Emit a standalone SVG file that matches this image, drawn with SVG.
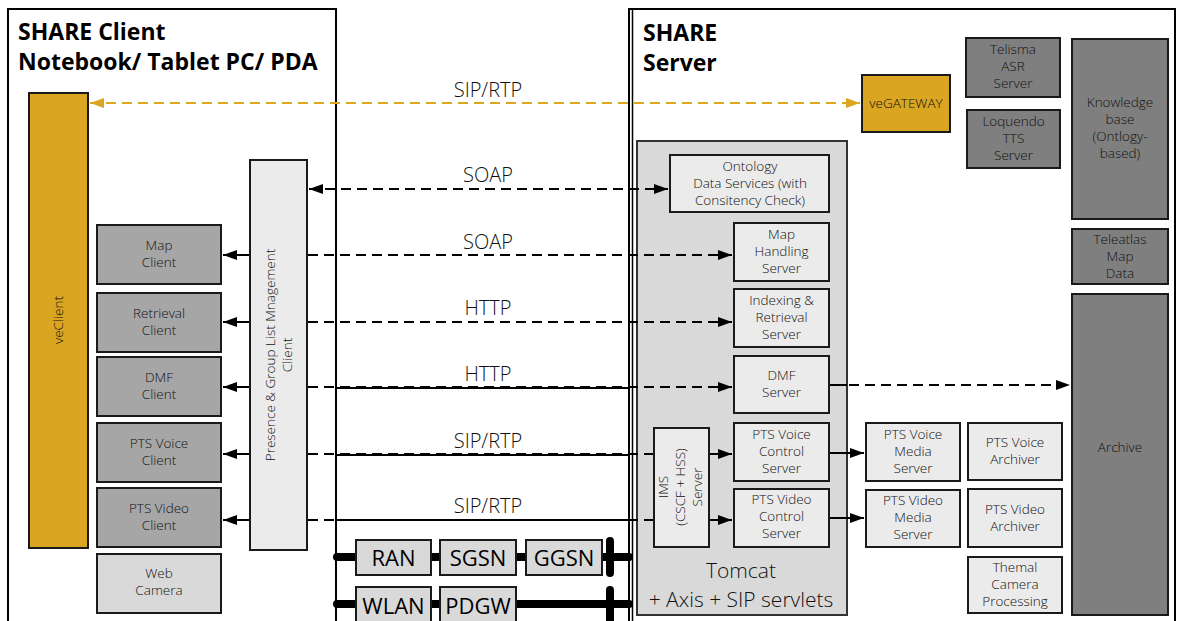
<svg xmlns="http://www.w3.org/2000/svg" width="1181" height="621" viewBox="0 0 1181 621">
<defs>
<marker id="ah" viewBox="0 0 14 10" refX="14" refY="5" markerWidth="14" markerHeight="10" markerUnits="userSpaceOnUse" orient="auto-start-reverse"><path d="M0,0 L14,5 L0,10 Z" fill="#000"/></marker>
<marker id="ahy" viewBox="0 0 14 10" refX="14" refY="5" markerWidth="14" markerHeight="10" markerUnits="userSpaceOnUse" orient="auto-start-reverse"><path d="M0,0 L14,5 L0,10 Z" fill="#DAA520"/></marker>
<style>
text{font-family:"Open Sans","Noto Sans","Liberation Sans",sans-serif;fill:#111;font-weight:300;}
.t{font-size:13.5px;text-anchor:middle;}
.title{font-size:23px;font-weight:bold;fill:#000;}
.lbl{font-size:20px;text-anchor:middle;}
.big{font-size:21px;text-anchor:middle;}
.nw{font-size:22px;text-anchor:middle;fill:#000;font-weight:400;}
.frame{fill:#fff;stroke:#000;stroke-width:2;}
.dark{fill:#7F7F7F;stroke:#1a1a1a;stroke-width:2;}
.mid{fill:#A6A6A6;stroke:#1a1a1a;stroke-width:2;}
.light{fill:#EBEBEB;stroke:#1a1a1a;stroke-width:2;}
.lgray{fill:#D9D9D9;stroke:#1a1a1a;stroke-width:2;}
.gold{fill:#DAA520;stroke:#1a1a1a;stroke-width:2;}
.dash{fill:none;stroke:#000;stroke-width:2;stroke-dasharray:10,6;}
.solid{fill:none;stroke:#000;stroke-width:2;}
.net{fill:none;stroke:#000;stroke-width:8;stroke-linecap:round;}
</style>
</defs>
<rect width="1181" height="621" fill="#fff"/>

<g id="client-frame">
<rect class="frame" x="8" y="9" width="328" height="630"/>
<text class="title" x="18" y="40">SHARE Client</text>
<text class="title" x="18" y="70">Notebook/ Tablet PC/ PDA</text>
</g>
<g id="server-frame">
<rect class="frame" x="629" y="9" width="546" height="630"/>
<line x1="632.5" y1="9" x2="632.5" y2="621" stroke="#000" stroke-width="1.5"/>
<text class="title" x="643" y="41">SHARE</text>
<text class="title" x="643" y="71">Server</text>
</g>

<g id="network">
<line class="net" x1="337" y1="557" x2="629" y2="557"/>
<line class="net" x1="610" y1="541" x2="610" y2="573"/>
<line class="net" x1="337" y1="604" x2="629" y2="604"/>
<line class="net" x1="610" y1="590" x2="610" y2="630"/>
<g id="ran"><rect class="lgray" x="356" y="540" width="75" height="35"/><text class="nw" x="393.5" y="566">RAN</text></g>
<g id="sgsn"><rect class="lgray" x="440" y="540" width="76" height="35"/><text class="nw" x="478" y="566">SGSN</text></g>
<g id="ggsn"><rect class="lgray" x="526" y="540" width="76" height="35"/><text class="nw" x="564" y="566">GGSN</text></g>
<g id="wlan"><rect class="lgray" x="356" y="587" width="75" height="45"/><text class="nw" x="393.5" y="614">WLAN</text></g>
<g id="pdgw"><rect class="lgray" x="440" y="587" width="76" height="45"/><text class="nw" x="478" y="614">PDGW</text></g>
</g>

<g id="veclient"><rect class="gold" x="29" y="93" width="59" height="455"/><text class="t" transform="translate(58,320) rotate(-90)" y="5">veClient</text></g>

<g id="presence"><rect class="light" x="250" y="160" width="57" height="390"/>
<text class="t" transform="translate(278,355) rotate(-90)"><tspan x="0" y="-3">Presence &amp; Group List Mnagement</tspan><tspan x="0" y="14">Client</tspan></text></g>

<g id="map-client"><rect class="mid" x="97" y="225" width="124" height="59"/><text class="t"><tspan x="159" y="250">Map</tspan><tspan x="159" y="267">Client</tspan></text></g>
<g id="retrieval-client"><rect class="mid" x="97" y="293" width="124" height="59"/><text class="t"><tspan x="159" y="318">Retrieval</tspan><tspan x="159" y="335">Client</tspan></text></g>
<g id="dmf-client"><rect class="mid" x="97" y="357" width="124" height="59"/><text class="t"><tspan x="159" y="382">DMF</tspan><tspan x="159" y="399">Client</tspan></text></g>
<g id="pts-voice-client"><rect class="mid" x="97" y="423" width="124" height="59"/><text class="t"><tspan x="159" y="448">PTS Voice</tspan><tspan x="159" y="465">Client</tspan></text></g>
<g id="pts-video-client"><rect class="mid" x="97" y="488" width="124" height="59"/><text class="t"><tspan x="159" y="513">PTS Video</tspan><tspan x="159" y="530">Client</tspan></text></g>
<g id="web-camera"><rect class="lgray" x="97" y="554" width="124" height="59"/><text class="t"><tspan x="159" y="578">Web</tspan><tspan x="159" y="595">Camera</tspan></text></g>

<g id="tomcat"><rect x="637" y="141" width="210" height="474" fill="#D9D9D9" stroke="#333" stroke-width="2"/>
<text class="big" x="741" y="578">Tomcat</text><text class="big" x="741" y="607">+ Axis + SIP servlets</text></g>

<g id="ontology"><rect class="light" x="670" y="155" width="159" height="57"/><text class="t"><tspan x="750" y="171">Ontology</tspan><tspan x="750" y="188">Data Services (with</tspan><tspan x="750" y="205">Consitency Check)</tspan></text></g>
<g id="map-server"><rect class="light" x="734" y="223" width="95" height="58"/><text class="t"><tspan x="781.5" y="239">Map</tspan><tspan x="781.5" y="256">Handling</tspan><tspan x="781.5" y="273">Server</tspan></text></g>
<g id="indexing-server"><rect class="light" x="734" y="289" width="95" height="58"/><text class="t"><tspan x="781.5" y="305">Indexing &amp;</tspan><tspan x="781.5" y="322">Retrieval</tspan><tspan x="781.5" y="339">Server</tspan></text></g>
<g id="dmf-server"><rect class="light" x="734" y="356" width="95" height="57"/><text class="t"><tspan x="781.5" y="380">DMF</tspan><tspan x="781.5" y="397">Server</tspan></text></g>
<g id="ims"><rect class="light" x="654" y="428" width="55" height="119"/><text class="t" transform="translate(681,487) rotate(-90)"><tspan x="0" y="-13">IMS</tspan><tspan x="0" y="4">(CSCF + HSS)</tspan><tspan x="0" y="21">Server</tspan></text></g>
<g id="pts-voice-control"><rect class="light" x="734" y="423" width="95" height="58"/><text class="t"><tspan x="781.5" y="439">PTS Voice</tspan><tspan x="781.5" y="456">Control</tspan><tspan x="781.5" y="473">Server</tspan></text></g>
<g id="pts-video-control"><rect class="light" x="734" y="489" width="95" height="58"/><text class="t"><tspan x="781.5" y="504">PTS Video</tspan><tspan x="781.5" y="521">Control</tspan><tspan x="781.5" y="538">Server</tspan></text></g>

<g id="vegateway"><rect class="gold" x="862" y="75" width="88" height="57"/><text class="t" x="906" y="108">veGATEWAY</text></g>
<g id="telisma"><rect class="dark" x="966" y="38" width="94" height="59"/><text class="t"><tspan x="1013" y="54">Telisma</tspan><tspan x="1013" y="71">ASR</tspan><tspan x="1013" y="88">Server</tspan></text></g>
<g id="loquendo"><rect class="dark" x="967" y="110" width="93" height="58"/><text class="t"><tspan x="1013.5" y="126">Loquendo</tspan><tspan x="1013.5" y="143">TTS</tspan><tspan x="1013.5" y="160">Server</tspan></text></g>
<g id="knowledge"><rect class="dark" x="1072" y="39" width="96" height="180"/><text class="t"><tspan x="1120" y="107">Knowledge</tspan><tspan x="1120" y="124">base</tspan><tspan x="1120" y="141">(Ontlogy-</tspan><tspan x="1120" y="158">based)</tspan></text></g>
<g id="teleatlas"><rect class="dark" x="1072" y="229" width="96" height="55"/><text class="t"><tspan x="1120" y="244">Teleatlas</tspan><tspan x="1120" y="261">Map</tspan><tspan x="1120" y="278">Data</tspan></text></g>
<g id="archive"><rect class="dark" x="1072" y="294" width="96" height="321"/><text class="t" x="1120" y="452">Archive</text></g>

<g id="pts-voice-media"><rect class="light" x="866" y="423" width="94" height="58"/><text class="t"><tspan x="913" y="439">PTS Voice</tspan><tspan x="913" y="456">Media</tspan><tspan x="913" y="473">Server</tspan></text></g>
<g id="pts-video-media"><rect class="light" x="866" y="490" width="94" height="57"/><text class="t"><tspan x="913" y="505">PTS Video</tspan><tspan x="913" y="522">Media</tspan><tspan x="913" y="539">Server</tspan></text></g>
<g id="pts-voice-archiver"><rect class="light" x="968" y="423" width="94" height="57"/><text class="t"><tspan x="1015" y="447">PTS Voice</tspan><tspan x="1015" y="464">Archiver</tspan></text></g>
<g id="pts-video-archiver"><rect class="light" x="968" y="489" width="94" height="58"/><text class="t"><tspan x="1015" y="514">PTS Video</tspan><tspan x="1015" y="531">Archiver</tspan></text></g>
<g id="thermal"><rect class="light" x="968" y="557" width="94" height="56"/><text class="t"><tspan x="1015" y="572">Themal</tspan><tspan x="1015" y="589">Camera</tspan><tspan x="1015" y="606">Processing</tspan></text></g>

<g id="connectors">
<line x1="90" y1="103" x2="860" y2="103" stroke="#DAA520" stroke-width="2" stroke-dasharray="10,6" marker-start="url(#ahy)" marker-end="url(#ahy)"/>
<line class="dash" x1="309" y1="189" x2="668" y2="189" marker-start="url(#ah)" marker-end="url(#ah)"/>
<line class="solid" x1="223" y1="255" x2="249" y2="255" marker-start="url(#ah)"/>
<line class="dash" x1="308" y1="255" x2="732" y2="255" marker-end="url(#ah)"/>
<line class="solid" x1="223" y1="322" x2="249" y2="322" marker-start="url(#ah)"/>
<line class="dash" x1="308" y1="322" x2="732" y2="322" marker-end="url(#ah)"/>
<line class="solid" x1="223" y1="387" x2="249" y2="387" marker-start="url(#ah)"/>
<line class="dash" x1="308" y1="387" x2="732" y2="387" marker-end="url(#ah)"/>
<line class="solid" x1="223" y1="454" x2="249" y2="454" marker-start="url(#ah)"/>
<line class="dash" x1="308" y1="454" x2="653" y2="454"/>
<line class="solid" x1="223" y1="520" x2="249" y2="520" marker-start="url(#ah)"/>
<line class="dash" x1="308" y1="520" x2="653" y2="520"/>
<line class="solid" x1="336" y1="388" x2="628" y2="388"/>
<line class="solid" x1="336" y1="455" x2="628" y2="455"/>
<line class="solid" x1="336" y1="520" x2="628" y2="520"/>
<line class="solid" x1="710" y1="454" x2="732" y2="454" marker-end="url(#ah)"/>
<line class="solid" x1="710" y1="520" x2="732" y2="520" marker-end="url(#ah)"/>
<line class="solid" x1="830" y1="453" x2="864" y2="453" marker-end="url(#ah)"/>
<line class="solid" x1="830" y1="518" x2="864" y2="518" marker-end="url(#ah)"/>
<line class="solid" x1="830" y1="385" x2="847" y2="385"/>
<line class="dash" x1="849" y1="385" x2="1070" y2="385" marker-end="url(#ah)"/>
<text class="lbl" x="488" y="97">SIP/RTP</text>
<text class="lbl" x="488" y="182">SOAP</text>
<text class="lbl" x="488" y="249">SOAP</text>
<text class="lbl" x="488" y="315">HTTP</text>
<text class="lbl" x="488" y="381">HTTP</text>
<text class="lbl" x="488" y="448">SIP/RTP</text>
<text class="lbl" x="488" y="513">SIP/RTP</text>
</g>
</svg>
